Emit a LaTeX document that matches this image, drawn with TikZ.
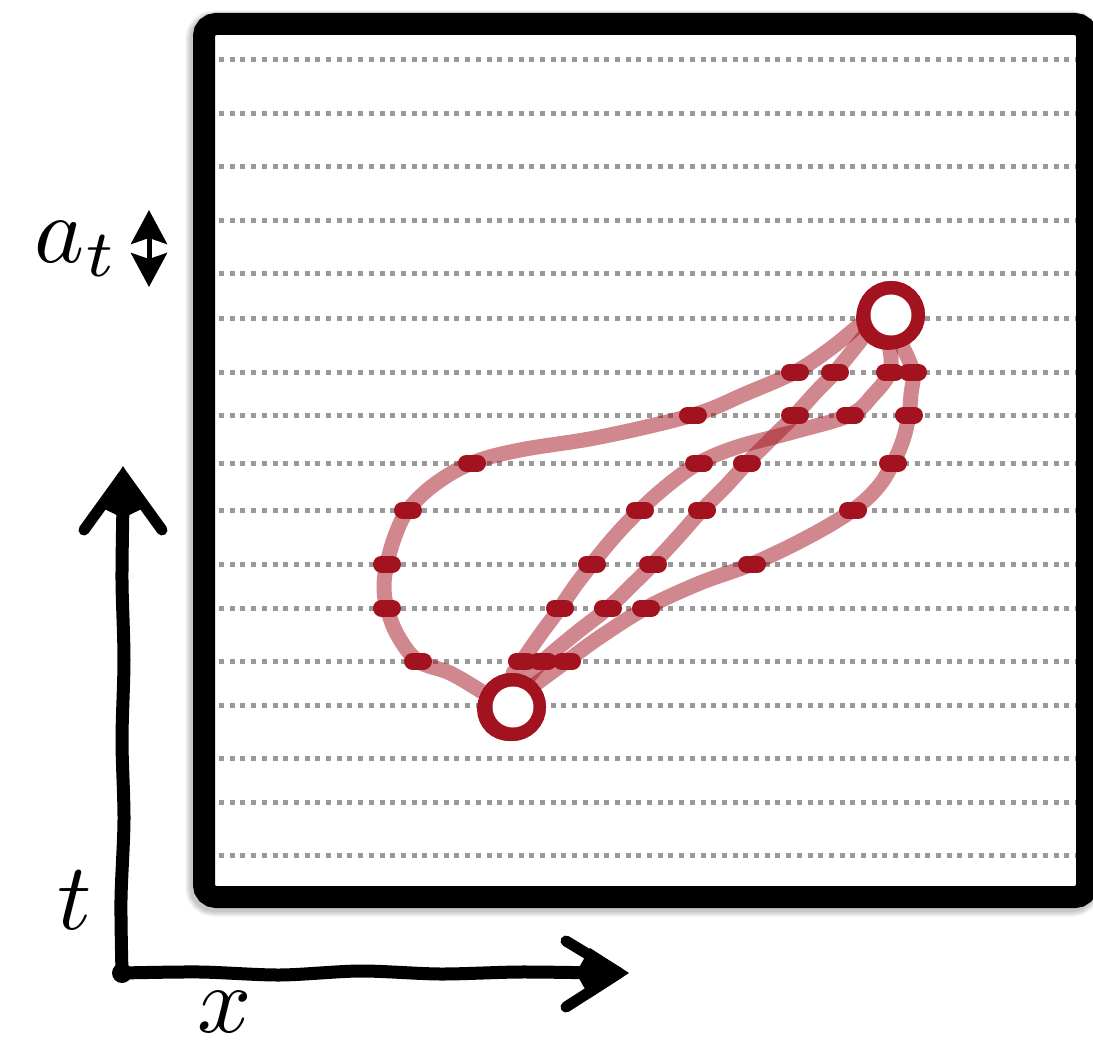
\documentclass[tikz,border=0pt]{standalone}
\usetikzlibrary{arrows.meta}
\definecolor{dred}{HTML}{A2131F}
\definecolor{dotgray}{HTML}{999999}
\tikzset{
  lp/.style={draw=dred, draw opacity=0.5, line width=15, line cap=round, line join=round},
  mk/.style={draw=dred, line width=17, line cap=round},
  ring/.style={circle, draw=dred, line width=15, fill=white, minimum size=53, inner sep=0},
  dotline/.style={draw=dotgray, line width=5, dash pattern=on 5 off 5.7},
  axisline/.style={line width=13, line cap=round, line join=round},
  barb/.style={line width=11, line cap=round},
  lbl/.style={scale=9.5, inner sep=0, anchor=base west}
}
\begin{document}
\begin{tikzpicture}[x=1pt,y=-1pt]
\useasboundingbox (0,0) rectangle (1093,1043);
% shadow
\foreach \k in {3,6,9,12}
  \draw[black, opacity=0.06, line width=21+\k, rounded corners=12] (202,27) rectangle (1084,900);
% box
\draw[line width=22, rounded corners=12, fill=white] (204,24) rectangle (1087,897);
% dotted lines
\foreach \y in {60,114,167,221,274,318,372,415,463,510,564,608,661,705,758,802,855}
  \draw[dotline] (219,\y) -- (1076,\y);
% circles (for anchors)
\node[ring] (top) at (891,315) {};
\node[ring] (bot) at (512,707) {};
% paths
\draw[lp] plot[smooth, tension=0.6] coordinates {(bot.153) (450,673) (418,661) (398,636) (387,608) (384,586) (387,564) (395,536) (408,510) (435,484) (472,463) (520,450) (600,437) (693,415) (745,394) (795,372) (830,349) (top.198)};
\draw[lp] plot[smooth, tension=0.6] coordinates {(bot.88) (522,661) (540,635) (560,608) (575,586) (592,564) (615,536) (640,510) (668,485) (699,463) (737,447) (793,432) (850,415) (873,395) (890,372) (top.268)};
\draw[lp] plot[smooth, tension=0.6] coordinates {(bot.61) (543,661) (575,634) (608,608) (630,587) (653,564) (678,537) (702,510) (725,487) (747,463) (770,440) (795,415) (815,393) (835,372) (top.218)};
\draw[lp] plot[smooth, tension=0.6] coordinates {(bot.44) (567,661) (600,637) (646,608) (700,583) (752,564) (810,536) (853,510) (878,487) (893,463) (903,440) (909,415) (911,394) (913,372) (top.290)};
% marks
\foreach \x/\y in {795/372,835/372,890/372,913/372,
                   693/415,795/415,850/415,909/415,
                   472/463,699/463,747/463,893/463,
                   408/510,640/510,702/510,853/510,
                   387/564,592/564,653/564,752/564,
                   387/608,560/608,608/608,646/608,
                   418/661,522/661,543/661,567/661}
  \draw[mk] (\x-5.5,\y) -- (\x+5.5,\y);
% circles on top (hand-drawn look: thicker on the left)
\node[ring] at (top) {};
\draw[dred, line width=10] ([shift={(-3,3)}]top.center) circle (27);
\node[ring] at (bot) {};
\draw[dred, line width=10] ([shift={(-3,2)}]bot.center) circle (27);
\fill[white] (top.center) circle (20.5);
\fill[white] ([shift={(1,0)}]bot.center) circle (20.5);
% axes
\coordinate (org) at (122,973);
\coordinate (ttip) at (123,466);
\coordinate (xtip) at (629,973);
\draw[axisline] plot[smooth] coordinates {(org) (121,900) (124,820) (122,740) (124,660) (122,580) (123,505)};
\draw[axisline] plot[smooth] coordinates {(org) (200,972) (280,975) (360,971) (440,974) (520,972) (600,973)};
\fill (org) circle (10);
\draw[barb] (123,476) -- (84,530);
\draw[barb] (123,476) -- (162,530);
\fill (ttip) -- (148,506) -- (123,518) -- (98,506) -- cycle;
\draw[barb] (619,973) -- (566,941);
\draw[barb] (619,973) -- (566,1007);
\fill (xtip) -- (590,948) -- (576,973) -- (590,998) -- cycle;
% labels
\node[lbl] (at) at (33,262) {$a_t$};
\node[lbl] (tl) at (56,929) {$t$};
\node[lbl] (xl) at (196,1032) {$x$};
\draw[line width=5, {Stealth[length=34pt,width=36pt,inset=6pt]}-{Stealth[length=34pt,width=36pt,inset=6pt]}] (149,210) -- (149,287);
\end{tikzpicture}
\end{document}
